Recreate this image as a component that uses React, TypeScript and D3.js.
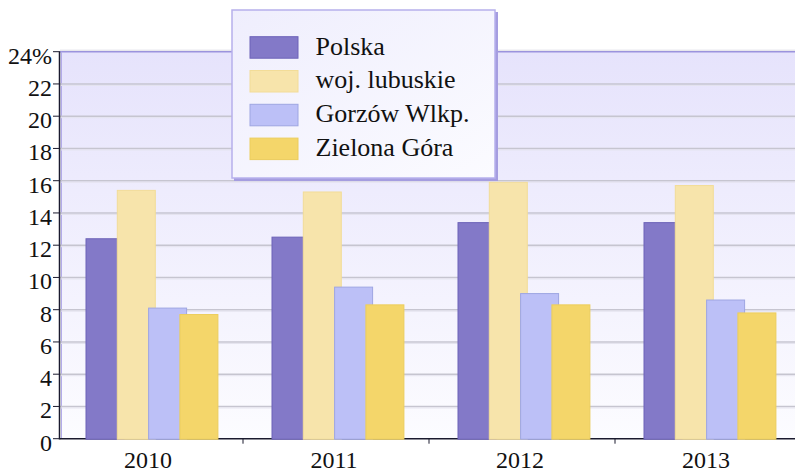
import React from "react";
import * as d3 from "d3";

const categories = ["2010", "2011", "2012", "2013"];
const seriesNames = ["Polska", "woj. lubuskie", "Gorzów Wlkp.", "Zielona Góra"];
const polska = [12.4, 12.5, 13.4, 13.4];
const lubuskie = [15.4, 15.3, 15.9, 15.7];
const gorzow = [8.1, 9.4, 9.0, 8.6];
const zielona = [7.7, 8.3, 8.3, 7.8];
const yTicks = [0, 2, 4, 6, 8, 10, 12, 14, 16, 18, 20, 22, 24];

const seriesValues = [polska, lubuskie, gorzow, zielona];
const fills = ["#8379c8", "#f7e4ab", "#bcc0f7", "#f4d66a"];
const strokes = ["#6d63b8", "#f2dc98", "#9ea6e2", "#eccd5c"];

const W = 795;
const H = 473;
const left = 60;
const right = 804;
const top = 51.7;
const bottom = 438.7;
const font = "'Liberation Serif', 'Times New Roman', serif";

export default function App() {
  const x = d3.scaleBand<string>().domain(categories).range([left, right]).padding(0);
  const y = d3.scaleLinear().domain([0, 24]).range([bottom, top]);
  const inner = d3.scaleLinear().domain([0, 3]).range([26, 26 + 3 * 31.3]);
  const barW = 38;

  return (
    <svg width={W} height={H} style={{ position: "absolute", left: 0, top: 0 }}>
      <defs>
        <linearGradient id="bg" x1="0" y1="0" x2="0" y2="1">
          <stop offset="0" stopColor="#e6e3fc" />
          <stop offset="1" stopColor="#fcfcff" />
        </linearGradient>
        <linearGradient id="lg" x1="0" y1="0" x2="1" y2="1">
          <stop offset="0" stopColor="#efeefd" />
          <stop offset="1" stopColor="#fbfbff" />
        </linearGradient>
      </defs>
      <rect x={0} y={0} width={W} height={H} fill="#ffffff" />
      <line x1={left} x2={W} y1={top - 1.5} y2={top - 1.5} stroke="#dcdce4" strokeWidth={1} />
      <rect x={left} y={top} width={right - left} height={bottom - top} fill="url(#bg)" />
      <line x1={left} x2={W} y1={top} y2={top} stroke="#9b93dd" strokeWidth={1.5} />
      <line x1={left + 1.5} x2={left + 1.5} y1={top} y2={bottom} stroke="#b3acea" strokeWidth={1} />
      {yTicks.filter((t) => t > 0 && t < 24).map((t) => (
        <g key={t}>
          <line x1={left} x2={W} y1={y(t)} y2={y(t)} stroke="#c6c5d0" strokeWidth={1.5} />
          <line x1={left} x2={W} y1={y(t) + 1.5} y2={y(t) + 1.5} stroke="#e4e3ee" strokeWidth={1} />
        </g>
      ))}
      <line x1={left} x2={W} y1={bottom} y2={bottom} stroke="#1a1a2e" strokeWidth={1.5} />
      <line x1={left - 0.5} x2={left - 0.5} y1={top} y2={bottom + 0.8} stroke="#1a1a2e" strokeWidth={1.5} />
      {yTicks.map((t) => (
        <g key={"t" + t}>
          <line x1={left - 7} x2={left} y1={y(t)} y2={y(t)} stroke="#1a1a2e" strokeWidth={1} />
          <text x={52} y={y(t) + 12} textAnchor="end" fontFamily={font} fontSize={24} fill="#111">
            {t === 24 ? "24%" : String(t)}
          </text>
        </g>
      ))}
      {categories.slice(1).map((c) => (
        <line key={"xt" + c} x1={x(c)! - 3} x2={x(c)! - 3} y1={bottom} y2={bottom + 5} stroke="#1a1a2e" strokeWidth={1} />
      ))}
      {seriesValues.map((vals, si) => (
        <g key={si}>
          {categories.map((c, ci) => (
            <rect
              key={c}
              x={x(c)! + inner(si)}
              y={y(vals[ci])}
              width={barW}
              height={bottom + 0.5 - y(vals[ci])}
              fill={fills[si]}
              stroke={strokes[si]}
              strokeWidth={1}
            />
          ))}
        </g>
      ))}
      {categories.map((c) => (
        <text key={"xl" + c} x={x(c)! + x.bandwidth() / 2 - 5} y={468} textAnchor="middle" fontFamily={font} fontSize={24} fill="#111">
          {c}
        </text>
      ))}
      <g>
        <rect x={234} y={12} width={264} height={169} fill="#a59de0" />
        <rect x={232} y={10} width={263} height={168} fill="url(#lg)" stroke="#b6b0ec" strokeWidth={1.5} />
        {seriesNames.map((n, i) => (
          <g key={n}>
            <rect x={250} y={36.7 + i * 33.8} width={48} height={21.5} fill={fills[i]} stroke={strokes[i]} strokeWidth={1} />
            <text x={315.5} y={54.5 + i * 33.8} fontFamily={font} fontSize={26} fill="#111">
              {n}
            </text>
          </g>
        ))}
      </g>
    </svg>
  );
}
